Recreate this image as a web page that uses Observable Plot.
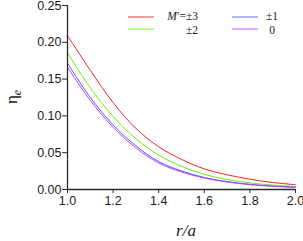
<!DOCTYPE html>
<html>
<head>
<meta charset="utf-8">
<script src="https://cdn.jsdelivr.net/npm/d3@7"></script>
<script src="https://cdn.jsdelivr.net/npm/@observablehq/plot@0.6"></script>
<style>
  html, body { margin: 0; padding: 0; background: #fff; }
  svg { display: block; overflow: visible; }
</style>
</head>
<body>
<div id="chart"></div>
<script>
const rValues = [1.0, 1.1, 1.2, 1.3, 1.4, 1.5, 1.6, 1.7, 1.8, 1.9, 2.0];
const seriesNames = ["±3", "±2", "±1", "0"];
const seriesColors = ["#ff1f1f", "#6cf000", "#4a5cff", "#c23cff"];
const eta3 = [0.209, 0.162, 0.118, 0.083, 0.058, 0.041, 0.028, 0.020, 0.014, 0.0095, 0.0065];
const eta2 = [0.186, 0.138, 0.0994, 0.069, 0.0467, 0.0315, 0.0205, 0.0135, 0.009, 0.006, 0.0042];
const eta1 = [0.1716, 0.125, 0.0878, 0.0593, 0.038, 0.0252, 0.0163, 0.0107, 0.0071, 0.0047, 0.0031];
const eta0 = [0.166, 0.121, 0.0845, 0.0565, 0.036, 0.0238, 0.0155, 0.0101, 0.0066, 0.0043, 0.0028];
const xTicks = [1.0, 1.2, 1.4, 1.6, 1.8, 2.0];
const yTicks = [0.00, 0.05, 0.10, 0.15, 0.20, 0.25];

const allSeries = [eta3, eta2, eta1, eta0];
const data = [];
allSeries.forEach((vals, i) => {
  vals.forEach((v, j) => data.push({ r: rValues[j], eta: v, series: seriesNames[i] }));
});

const axisColor = "#2a2a2a";
const plot = Plot.plot({
  width: 303,
  height: 241,
  marginLeft: 67,
  marginRight: 8,
  marginTop: 5,
  marginBottom: 52,
  style: { fontFamily: "'Liberation Sans', Arial, sans-serif", fontSize: "12px", color: "#1a1a1a", background: "#fff", overflow: "visible" },
  x: { domain: [1, 2] },
  y: { domain: [0, 0.25] },
  color: { domain: seriesNames, range: seriesColors },
  marks: [
    Plot.line(data, { x: "r", y: "eta", stroke: "series", strokeWidth: 1, curve: "catmull-rom" }),
    Plot.axisX({ ticks: xTicks, tickFormat: d3.format(".1f"), tickSize: 4, tickPadding: 3, label: null, stroke: axisColor, fontSize: 12.5 }),
    Plot.axisY({ ticks: yTicks, tickFormat: d3.format(".2f"), tickSize: 5, tickPadding: 1, label: null, stroke: axisColor, fontSize: 12.5 }),
    Plot.ruleX([1], { stroke: axisColor, strokeWidth: 1.3 }),
    Plot.ruleY([0], { stroke: axisColor, strokeWidth: 1.3 })
  ]
});
document.getElementById("chart").appendChild(plot);

const svg = d3.select(plot);
const serif = "'Liberation Serif', 'Times New Roman', serif";

// axis titles
const yt = svg.append("text")
  .attr("transform", "translate(17,97) rotate(-90)")
  .attr("text-anchor", "middle")
  .attr("font-family", serif)
  .attr("font-size", 17)
  .attr("fill", "#1a1a1a");
yt.append("tspan").text("η");
yt.append("tspan").attr("font-style", "italic").attr("font-size", 12).attr("dy", 4).text("e");

svg.append("text")
  .attr("x", 186).attr("y", 236)
  .attr("text-anchor", "middle")
  .attr("font-family", serif)
  .attr("font-style", "italic")
  .attr("font-size", 17)
  .attr("fill", "#1a1a1a")
  .text("r/a");

// legend
const legendCols = [
  { lineX: 128, textX: 198, anchor: "end" },
  { lineX: 232, textX: 272, anchor: "middle" }
];
const legendRows = [17, 29];
const legendTextRows = [16.3, 29.8];
seriesNames.forEach((name, i) => {
  const col = legendCols[Math.floor(i / 2)];
  const y = legendRows[i % 2];
  svg.append("line")
    .attr("x1", col.lineX).attr("x2", col.lineX + 26)
    .attr("y1", y).attr("y2", y)
    .attr("stroke", seriesColors[i]).attr("stroke-width", 1.2).attr("stroke-opacity", 0.75);
  const t = svg.append("text")
    .attr("x", col.textX).attr("y", legendTextRows[i % 2] + 4)
    .attr("text-anchor", col.anchor)
    .attr("font-family", serif)
    .attr("font-size", 11.5)
    .attr("fill", "#1a1a1a");
  if (i === 0) {
    t.append("tspan").attr("font-style", "italic").text("M");
    t.append("tspan").text("′=" + name);
  } else {
    t.text(name);
  }
});
</script>
</body>
</html>
